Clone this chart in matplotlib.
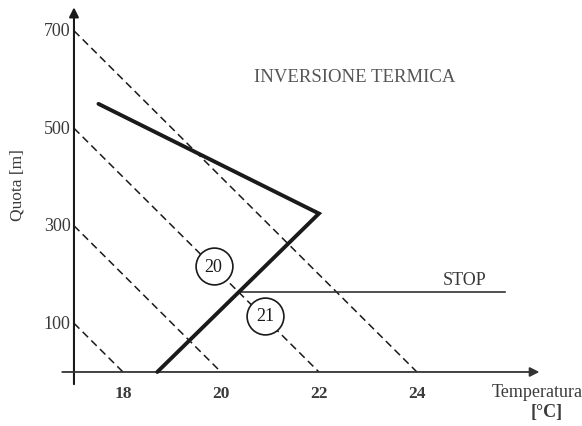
import matplotlib.pyplot as plt
import numpy as np

# diagram data
x_ticks = [18, 20, 22, 24]          # temperature tick labels [°C]
y_ticks = [100, 300, 500, 700]      # height tick labels [m]
adiabat_theta = [18, 20, 22, 24]    # dashed dry adiabats: temperature at ground
adiabat_base_T = 17                 # temperature at the y axis
profile_T = [17.5, 22.0, 18.7]      # thick temperature profile
profile_z = [550, 325, 0]
stop_z = 165                        # STOP level
stop_T_end = 25.8
circle_T = [19.85, 20.9]            # parcel markers on the 22° adiabat
circle_z = [217, 115]
circle_labels = ["20", "21"]

DPI = 100
fig = plt.figure(figsize=(5.82, 4.27), dpi=DPI)
ax = fig.add_axes([0, 0, 1, 1])
ax.set_xlim(15.49, 27.37)
ax.set_ylim(-110.8, 765.1)
ax.axis("off")

plt.rcParams["font.family"] = ["Liberation Serif", "DejaVu Serif"]
ink = "#1a1a1a"
grey = "#3a3a3a"

# axes with arrows
ax.annotate("", xy=(adiabat_base_T, 748), xytext=(adiabat_base_T, -25),
            arrowprops=dict(arrowstyle="-|>", color=ink, lw=1.5,
                            mutation_scale=14, shrinkA=0, shrinkB=0))
ax.annotate("", xy=(26.5, 0), xytext=(16.76, 0),
            arrowprops=dict(arrowstyle="-|>", color="#333333", lw=1.3,
                            mutation_scale=14, shrinkA=0, shrinkB=0))

# dry adiabats
for th in adiabat_theta:
    ax.plot([adiabat_base_T, th], [100 * (th - adiabat_base_T), 0],
            color=ink, lw=1.1, ls=(0, (5, 3)), zorder=2)

# temperature profile
ax.plot(profile_T, profile_z, color=ink, lw=2.8, solid_capstyle="round",
        solid_joinstyle="miter", zorder=4)

# STOP line, starting where it meets the profile
stop_T_start = np.interp(stop_z, profile_z[::-1][:2], profile_T[::-1][:2])
ax.plot([stop_T_start, stop_T_end], [stop_z, stop_z], color="#333333",
        lw=1.2, zorder=3)
ax.text(24.98, stop_z + 8, "STOP", ha="center", va="bottom", fontsize=13,
        color=grey)

# circled parcel temperatures
for t, z, lab in zip(circle_T, circle_z, circle_labels):
    ax.plot(t, z, marker="o", ms=26.5, mfc="white", mec=ink, mew=1.2, zorder=5)
    ax.text(t, z, lab, ha="center", va="center", fontsize=13, color=ink,
            zorder=6)

ax.text(22.73, 607, "INVERSIONE TERMICA", ha="center", va="center",
        fontsize=13.5, color="#555555")

# tick labels
for v in y_ticks:
    ax.text(16.93, v, str(v), ha="right", va="center", fontsize=13,
            color=grey)
for v in x_ticks:
    ax.text(v, -43, str(v), ha="center", va="center", fontsize=12.5,
            color=grey, fontweight="bold")

ax.text(15.84, 386, "Quota [m]", rotation=90, ha="center", va="center",
        fontsize=12.5, color=grey)
ax.text(26.45, -41, "Temperatura", ha="center", va="center", fontsize=13,
        color=grey)
ax.text(26.65, -82, "[°C]", ha="center", va="center", fontsize=13,
        color=grey, fontweight="bold")

fig.savefig("out.png", dpi=DPI)
